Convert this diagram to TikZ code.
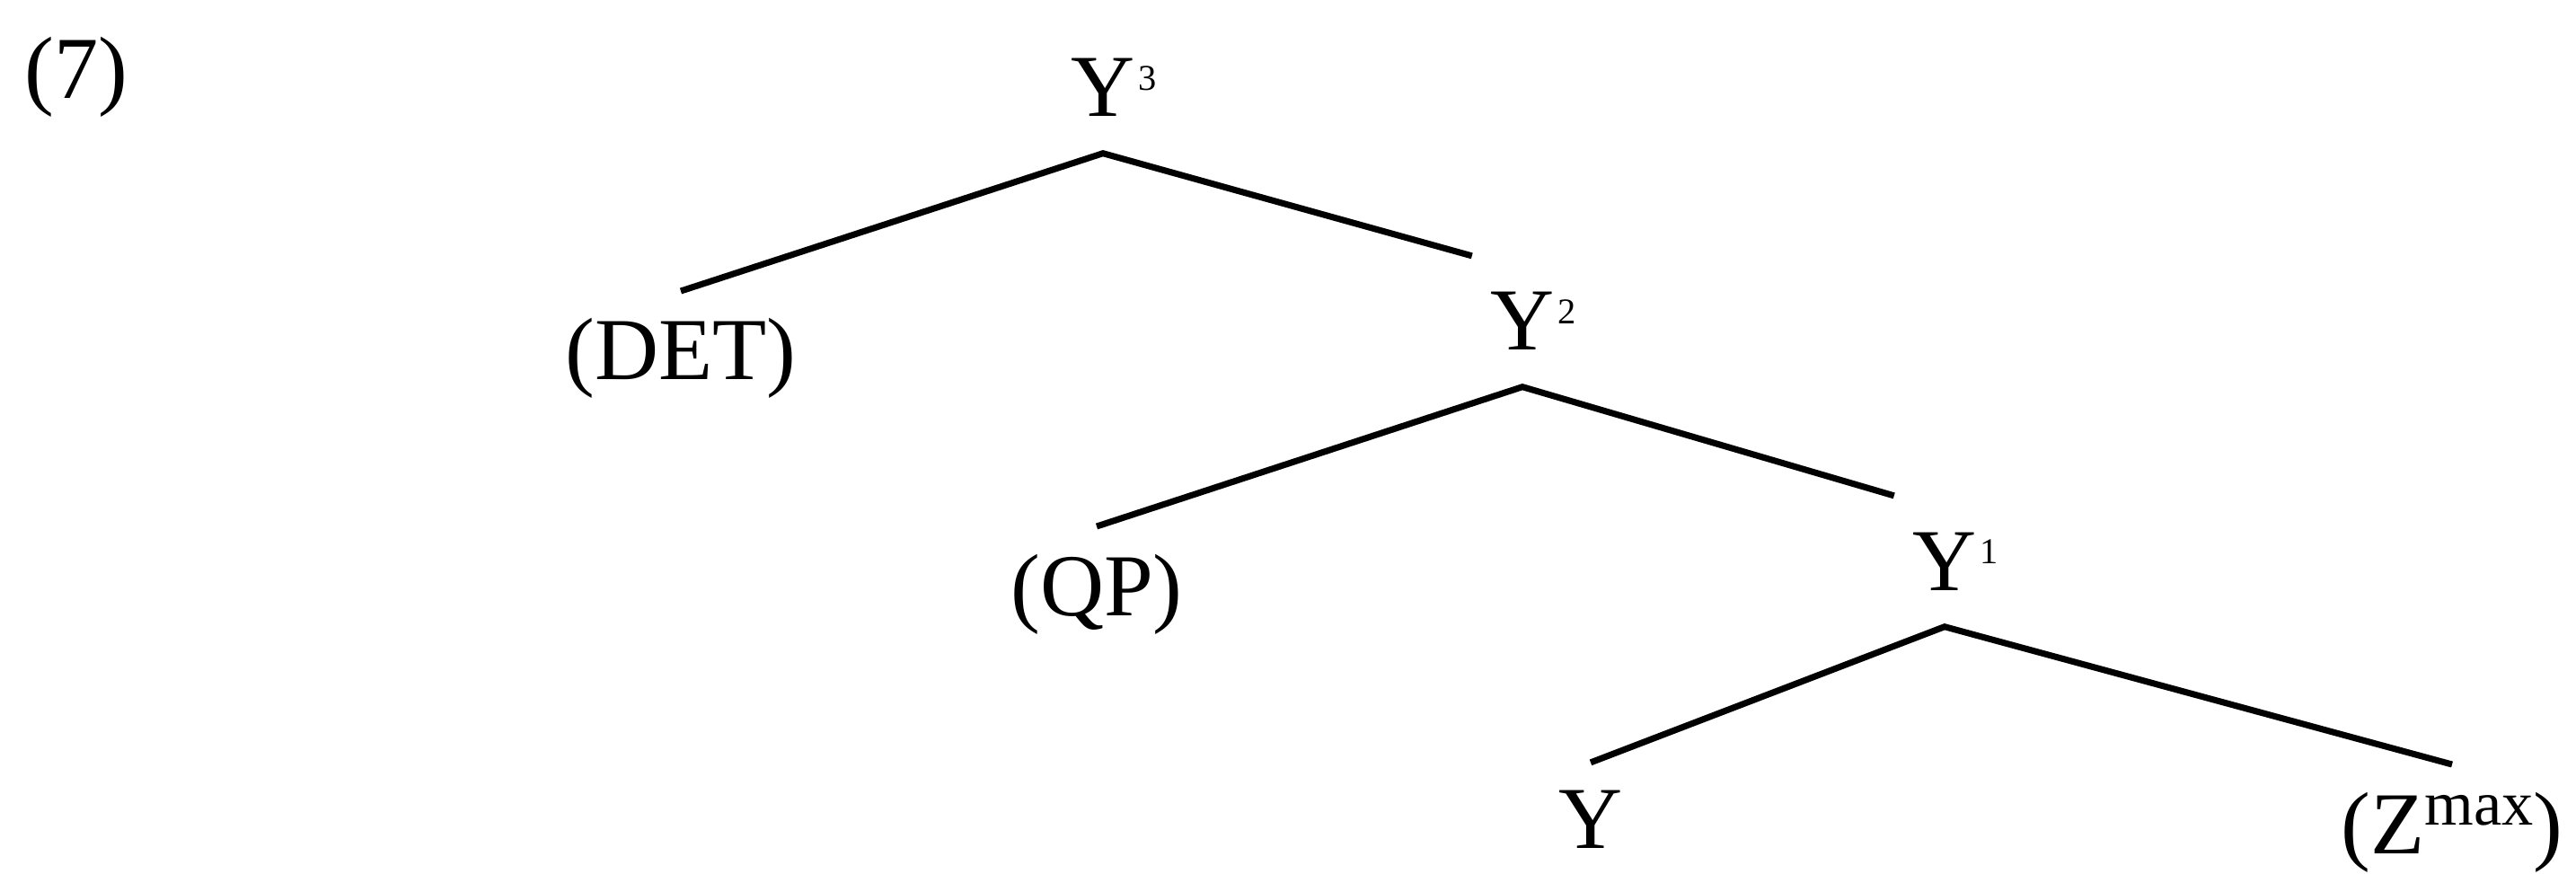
\documentclass[tikz,border=0pt]{standalone}
\usepackage{fontspec}
\setmainfont{Liberation Serif}
\newcommand{\catsup}[1]{\rlap{\kern1pt\raisebox{8.5pt}{\fontsize{11.5}{12}\selectfont #1}}}

\begin{document}
\begin{tikzpicture}[
    every node/.style={font=\fontsize{28}{32}\selectfont},
    cat/.style={anchor=base, inner xsep=0.2cm, inner ysep=0.4cm},
    leaf/.style={anchor=base, inner xsep=0.2cm, inner ysep=0.3cm},
    branch/.style={line width=2pt, line join=miter}]
    \useasboundingbox (0,0) rectangle (28.68,-9.73);

    % Numeris
    \node[anchor=base west, inner sep=0pt] (ex7) at (0.27,-1.10) {(7)};

    % Medžio mazgai
    \node[cat] (y3) at (12.28,-1.30) {Y\catsup{3}};
    \node[leaf] (det) at (7.58,-4.23) {(DET)};
    \node[cat] (y2) at (16.95,-3.90) {Y\catsup{2}};
    \node[leaf] (qp) at (12.21,-6.85) {(QP)};
    \node[cat] (y1) at (21.65,-6.57) {Y\catsup{1}};
    \node[leaf] (yhead) at (17.71,-9.44) {Y};
    \node[leaf] (zmax) at (27.30,-9.50)
        {(Z\raisebox{9pt}{\fontsize{20}{22}\selectfont max})};

    % Šakos
    \draw[branch] (det.north) -- (y3.south) -- (y2.north west);
    \draw[branch] (qp.north) -- (y2.south) -- (y1.north west);
    \draw[branch] (yhead.north) -- (y1.south) -- (zmax.north);
\end{tikzpicture}
\end{document}
